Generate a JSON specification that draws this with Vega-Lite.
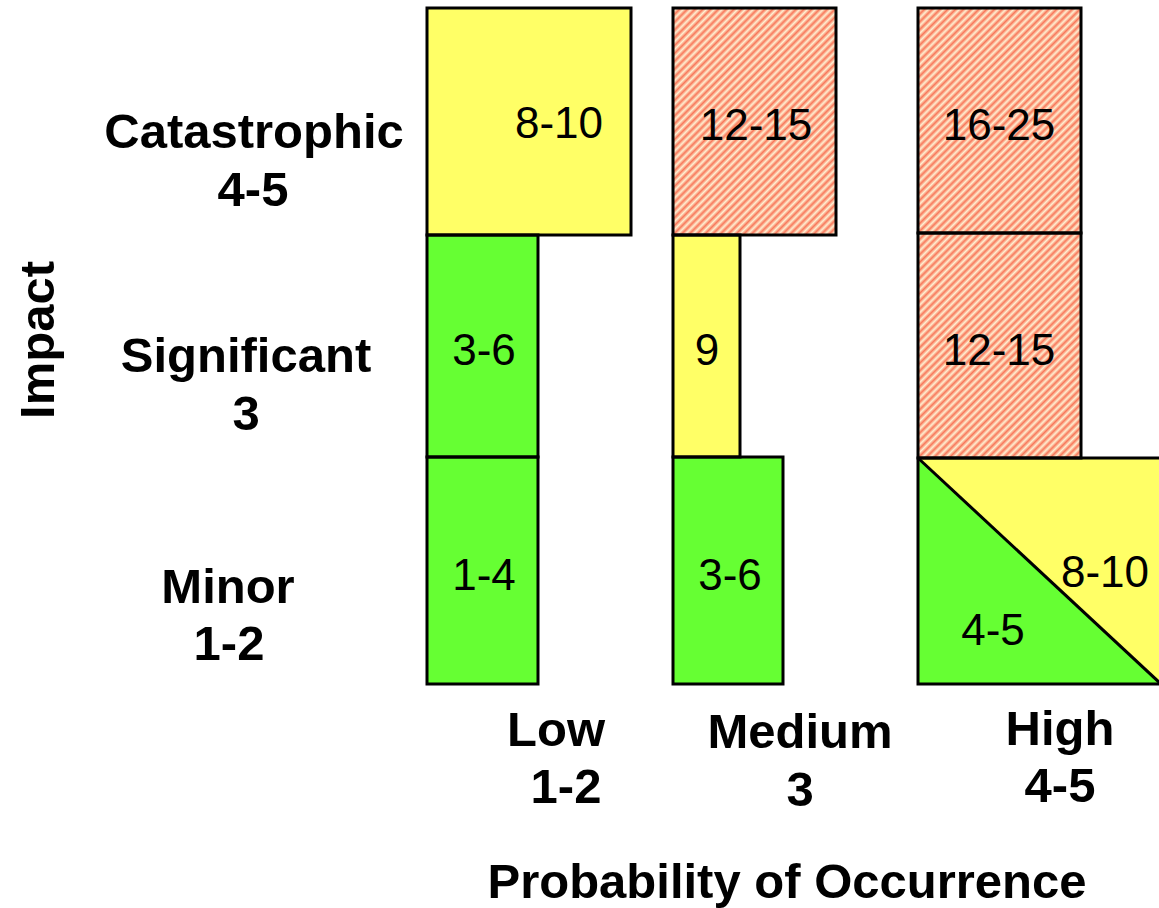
{
  "$schema": "https://vega.github.io/schema/vega-lite/v6.json",
  "width": 1159,
  "height": 908,
  "padding": 0,
  "autosize": {"type": "fit", "contains": "padding"},
  "background": "white",
  "config": {"view": {"stroke": null}},
  "datasets": {
    "cells": [
      {"probability": "Low", "impact": "Catastrophic", "score": "8-10", "level": "moderate", "x0": 427, "x1": 631, "y0": 8, "y1": 235},
      {"probability": "Low", "impact": "Significant", "score": "3-6", "level": "low", "x0": 427, "x1": 538, "y0": 235, "y1": 457},
      {"probability": "Low", "impact": "Minor", "score": "1-4", "level": "low", "x0": 427, "x1": 538, "y0": 457, "y1": 684},
      {"probability": "Medium", "impact": "Catastrophic", "score": "12-15", "level": "high", "x0": 673, "x1": 836, "y0": 8, "y1": 235},
      {"probability": "Medium", "impact": "Significant", "score": "9", "level": "moderate", "x0": 673, "x1": 740, "y0": 235, "y1": 457},
      {"probability": "Medium", "impact": "Minor", "score": "3-6", "level": "low", "x0": 673, "x1": 783, "y0": 457, "y1": 684},
      {"probability": "High", "impact": "Catastrophic", "score": "16-25", "level": "high", "x0": 918, "x1": 1081, "y0": 8, "y1": 233},
      {"probability": "High", "impact": "Significant", "score": "12-15", "level": "high", "x0": 918, "x1": 1081, "y0": 233, "y1": 458},
      {"probability": "High", "impact": "Minor", "score": "8-10", "level": "moderate", "x0": 918, "x1": 1180, "y0": 458, "y1": 684}
    ],
    "split": [
      {"px": 918, "top": 458, "bottom": 684},
      {"px": 1161, "top": 684, "bottom": 684}
    ],
    "labels": [
      {"text": "8-10", "kind": "cell", "x": 559, "y": 138},
      {"text": "12-15", "kind": "cell", "x": 756, "y": 140},
      {"text": "16-25", "kind": "cell", "x": 999, "y": 140},
      {"text": "3-6", "kind": "cell", "x": 484, "y": 365},
      {"text": "9", "kind": "cell", "x": 707, "y": 365},
      {"text": "12-15", "kind": "cell", "x": 999, "y": 365},
      {"text": "1-4", "kind": "cell", "x": 484, "y": 590},
      {"text": "3-6", "kind": "cell", "x": 730, "y": 590},
      {"text": "8-10", "kind": "cell", "x": 1105, "y": 587},
      {"text": "4-5", "kind": "cell", "x": 993, "y": 645},
      {"text": "Catastrophic", "kind": "axis", "x": 254, "y": 148},
      {"text": "4-5", "kind": "axis", "x": 253, "y": 206},
      {"text": "Significant", "kind": "axis", "x": 246, "y": 372},
      {"text": "3", "kind": "axis", "x": 246, "y": 430},
      {"text": "Minor", "kind": "axis", "x": 228, "y": 603},
      {"text": "1-2", "kind": "axis", "x": 229, "y": 660},
      {"text": "Low", "kind": "axis", "x": 556, "y": 746},
      {"text": "1-2", "kind": "axis", "x": 566, "y": 803},
      {"text": "Medium", "kind": "axis", "x": 800, "y": 748},
      {"text": "3", "kind": "axis", "x": 800, "y": 806},
      {"text": "High", "kind": "axis", "x": 1060, "y": 745},
      {"text": "4-5", "kind": "axis", "x": 1060, "y": 802},
      {"text": "Probability of Occurrence", "kind": "axis", "x": 787, "y": 898},
      {"text": "Impact", "kind": "title", "x": 54, "y": 340}
    ]
  },
  "layer": [
    {
      "data": {"name": "cells"},
      "transform": [{"filter": "datum.level !== 'high'"}],
      "mark": {"type": "rect", "strokeWidth": 0, "clip": true},
      "encoding": {
        "x": {"field": "x0", "type": "quantitative", "scale": {"domain": [0, 1159], "nice": false, "zero": false}, "axis": null},
        "x2": {"field": "x1"},
        "y": {"field": "y0", "type": "quantitative", "scale": {"domain": [0, 908], "nice": false, "zero": false, "reverse": true}, "axis": null},
        "y2": {"field": "y1"},
        "fill": {"field": "level", "type": "nominal", "scale": {"domain": ["low", "moderate"], "range": ["#66FF33", "#FFFF66"]}, "legend": null}
      }
    },
    {
      "data": {"name": "cells"},
      "transform": [{"filter": "datum.level === 'high'"}],
      "mark": {
        "type": "rect",
        "strokeWidth": 0,
        "clip": true,
        "fill": {
          "gradient": "linear",
          "x1": 0, "y1": 0, "x2": 0.818, "y2": 1.132,
          "stops": [
            {"offset": 0.00, "color": "#F8785A"}, {"offset": 0.01, "color": "#FFF0D2"},
            {"offset": 0.02, "color": "#F8785A"}, {"offset": 0.03, "color": "#FFF0D2"},
            {"offset": 0.04, "color": "#F8785A"}, {"offset": 0.05, "color": "#FFF0D2"},
            {"offset": 0.06, "color": "#F8785A"}, {"offset": 0.07, "color": "#FFF0D2"},
            {"offset": 0.08, "color": "#F8785A"}, {"offset": 0.09, "color": "#FFF0D2"},
            {"offset": 0.10, "color": "#F8785A"}, {"offset": 0.11, "color": "#FFF0D2"},
            {"offset": 0.12, "color": "#F8785A"}, {"offset": 0.13, "color": "#FFF0D2"},
            {"offset": 0.14, "color": "#F8785A"}, {"offset": 0.15, "color": "#FFF0D2"},
            {"offset": 0.16, "color": "#F8785A"}, {"offset": 0.17, "color": "#FFF0D2"},
            {"offset": 0.18, "color": "#F8785A"}, {"offset": 0.19, "color": "#FFF0D2"},
            {"offset": 0.20, "color": "#F8785A"}, {"offset": 0.21, "color": "#FFF0D2"},
            {"offset": 0.22, "color": "#F8785A"}, {"offset": 0.23, "color": "#FFF0D2"},
            {"offset": 0.24, "color": "#F8785A"}, {"offset": 0.25, "color": "#FFF0D2"},
            {"offset": 0.26, "color": "#F8785A"}, {"offset": 0.27, "color": "#FFF0D2"},
            {"offset": 0.28, "color": "#F8785A"}, {"offset": 0.29, "color": "#FFF0D2"},
            {"offset": 0.30, "color": "#F8785A"}, {"offset": 0.31, "color": "#FFF0D2"},
            {"offset": 0.32, "color": "#F8785A"}, {"offset": 0.33, "color": "#FFF0D2"},
            {"offset": 0.34, "color": "#F8785A"}, {"offset": 0.35, "color": "#FFF0D2"},
            {"offset": 0.36, "color": "#F8785A"}, {"offset": 0.37, "color": "#FFF0D2"},
            {"offset": 0.38, "color": "#F8785A"}, {"offset": 0.39, "color": "#FFF0D2"},
            {"offset": 0.40, "color": "#F8785A"}, {"offset": 0.41, "color": "#FFF0D2"},
            {"offset": 0.42, "color": "#F8785A"}, {"offset": 0.43, "color": "#FFF0D2"},
            {"offset": 0.44, "color": "#F8785A"}, {"offset": 0.45, "color": "#FFF0D2"},
            {"offset": 0.46, "color": "#F8785A"}, {"offset": 0.47, "color": "#FFF0D2"},
            {"offset": 0.48, "color": "#F8785A"}, {"offset": 0.49, "color": "#FFF0D2"},
            {"offset": 0.50, "color": "#F8785A"}, {"offset": 0.51, "color": "#FFF0D2"},
            {"offset": 0.52, "color": "#F8785A"}, {"offset": 0.53, "color": "#FFF0D2"},
            {"offset": 0.54, "color": "#F8785A"}, {"offset": 0.55, "color": "#FFF0D2"},
            {"offset": 0.56, "color": "#F8785A"}, {"offset": 0.57, "color": "#FFF0D2"},
            {"offset": 0.58, "color": "#F8785A"}, {"offset": 0.59, "color": "#FFF0D2"},
            {"offset": 0.60, "color": "#F8785A"}, {"offset": 0.61, "color": "#FFF0D2"},
            {"offset": 0.62, "color": "#F8785A"}, {"offset": 0.63, "color": "#FFF0D2"},
            {"offset": 0.64, "color": "#F8785A"}, {"offset": 0.65, "color": "#FFF0D2"},
            {"offset": 0.66, "color": "#F8785A"}, {"offset": 0.67, "color": "#FFF0D2"},
            {"offset": 0.68, "color": "#F8785A"}, {"offset": 0.69, "color": "#FFF0D2"},
            {"offset": 0.70, "color": "#F8785A"}, {"offset": 0.71, "color": "#FFF0D2"},
            {"offset": 0.72, "color": "#F8785A"}, {"offset": 0.73, "color": "#FFF0D2"},
            {"offset": 0.74, "color": "#F8785A"}, {"offset": 0.75, "color": "#FFF0D2"},
            {"offset": 0.76, "color": "#F8785A"}, {"offset": 0.77, "color": "#FFF0D2"},
            {"offset": 0.78, "color": "#F8785A"}, {"offset": 0.79, "color": "#FFF0D2"},
            {"offset": 0.80, "color": "#F8785A"}, {"offset": 0.81, "color": "#FFF0D2"},
            {"offset": 0.82, "color": "#F8785A"}, {"offset": 0.83, "color": "#FFF0D2"},
            {"offset": 0.84, "color": "#F8785A"}, {"offset": 0.85, "color": "#FFF0D2"},
            {"offset": 0.86, "color": "#F8785A"}, {"offset": 0.87, "color": "#FFF0D2"},
            {"offset": 0.88, "color": "#F8785A"}, {"offset": 0.89, "color": "#FFF0D2"},
            {"offset": 0.90, "color": "#F8785A"}, {"offset": 0.91, "color": "#FFF0D2"},
            {"offset": 0.92, "color": "#F8785A"}, {"offset": 0.93, "color": "#FFF0D2"},
            {"offset": 0.94, "color": "#F8785A"}, {"offset": 0.95, "color": "#FFF0D2"},
            {"offset": 0.96, "color": "#F8785A"}, {"offset": 0.97, "color": "#FFF0D2"},
            {"offset": 0.98, "color": "#F8785A"}, {"offset": 0.99, "color": "#FFF0D2"},
            {"offset": 1.00, "color": "#F8785A"}
          ]
        }
      },
      "encoding": {
        "x": {"field": "x0", "type": "quantitative"},
        "x2": {"field": "x1"},
        "y": {"field": "y0", "type": "quantitative"},
        "y2": {"field": "y1"}
      }
    },
    {
      "data": {"name": "split"},
      "mark": {"type": "area", "color": "#66FF33", "orient": "vertical", "clip": true},
      "encoding": {
        "x": {"field": "px", "type": "quantitative"},
        "y": {"field": "top", "type": "quantitative"},
        "y2": {"field": "bottom"}
      }
    },
    {
      "data": {"name": "split"},
      "mark": {"type": "line", "color": "black", "strokeWidth": 3, "clip": true},
      "encoding": {
        "x": {"field": "px", "type": "quantitative"},
        "y": {"field": "top", "type": "quantitative"}
      }
    },
    {
      "data": {"name": "cells"},
      "mark": {"type": "rect", "fillOpacity": 0, "fill": "white", "stroke": "black", "strokeWidth": 3, "clip": true},
      "encoding": {
        "x": {"field": "x0", "type": "quantitative"},
        "x2": {"field": "x1"},
        "y": {"field": "y0", "type": "quantitative"},
        "y2": {"field": "y1"}
      }
    },
    {
      "data": {"name": "labels"},
      "transform": [{"filter": "datum.kind === 'cell'"}],
      "mark": {"type": "text", "font": "Liberation Sans", "fontSize": 44, "align": "center", "baseline": "alphabetic", "color": "black"},
      "encoding": {
        "x": {"field": "x", "type": "quantitative"},
        "y": {"field": "y", "type": "quantitative"},
        "text": {"field": "text"}
      }
    },
    {
      "data": {"name": "labels"},
      "transform": [{"filter": "datum.kind === 'axis'"}],
      "mark": {"type": "text", "font": "Liberation Sans", "fontWeight": "bold", "fontSize": 49, "align": "center", "baseline": "alphabetic", "color": "black"},
      "encoding": {
        "x": {"field": "x", "type": "quantitative"},
        "y": {"field": "y", "type": "quantitative"},
        "text": {"field": "text"}
      }
    },
    {
      "data": {"name": "labels"},
      "transform": [{"filter": "datum.kind === 'title'"}],
      "mark": {"type": "text", "font": "Liberation Sans", "fontWeight": "bold", "fontSize": 49, "align": "center", "baseline": "alphabetic", "angle": 270, "color": "black"},
      "encoding": {
        "x": {"field": "x", "type": "quantitative"},
        "y": {"field": "y", "type": "quantitative"},
        "text": {"field": "text"}
      }
    }
  ]
}
